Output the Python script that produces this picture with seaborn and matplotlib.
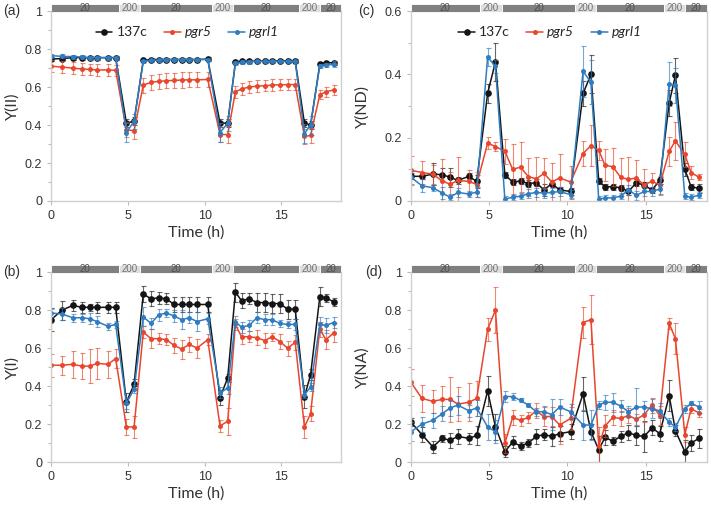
import numpy as np
import pandas as pd
import matplotlib
matplotlib.use("Agg")
import matplotlib.pyplot as plt
import matplotlib.transforms as mtransforms
from matplotlib.patches import Rectangle
from matplotlib.ticker import MultipleLocator
import seaborn as sns

# sampling times (h)
time = [0, 0.7, 1.4, 2.0, 2.5, 3.0, 3.7, 4.2, 4.9, 5.4,
        6.0, 6.5, 7.0, 7.5, 8.0, 8.5, 9.0, 9.5, 10.2, 11.0, 11.5,
        12.0, 12.4, 12.9, 13.4, 13.9, 14.4, 14.9, 15.4, 15.9, 16.5, 16.9,
        17.5, 17.9, 18.4]

# light regime bar: start, end, label
light_start = [0, 4.4, 5.8, 10.5, 11.85, 16.15, 17.5]
light_end = [4.4, 5.8, 10.5, 11.85, 16.15, 17.5, 18.9]
light_label = ["20", "200", "20", "200", "20", "200", "20"]

# (a) Y(II)
y2_137c = [0.748, 0.75, 0.755, 0.755, 0.755, 0.755, 0.755, 0.755, 0.41, 0.42,
           0.74, 0.745, 0.745, 0.745, 0.745, 0.745, 0.745, 0.745, 0.747, 0.41, 0.41,
           0.73, 0.735, 0.735, 0.737, 0.737, 0.737, 0.737, 0.737, 0.737, 0.41, 0.40,
           0.72, 0.728, 0.728]
y2_137c_err = [0.01, 0.01, 0.01, 0.01, 0.01, 0.01, 0.01, 0.01, 0.02, 0.02,
               0.01, 0.01, 0.01, 0.01, 0.01, 0.01, 0.01, 0.01, 0.01, 0.02, 0.02,
               0.01, 0.01, 0.01, 0.01, 0.01, 0.01, 0.01, 0.01, 0.01, 0.02, 0.02,
               0.01, 0.01, 0.01]
y2_pgr5 = [0.71, 0.705, 0.70, 0.695, 0.693, 0.69, 0.69, 0.688, 0.375, 0.37,
           0.61, 0.625, 0.63, 0.633, 0.635, 0.637, 0.638, 0.638, 0.64, 0.35, 0.35,
           0.575, 0.59, 0.60, 0.605, 0.607, 0.61, 0.612, 0.613, 0.613, 0.34, 0.345,
           0.56, 0.575, 0.585]
y2_pgr5_err = [0.03, 0.03, 0.03, 0.03, 0.03, 0.03, 0.03, 0.03, 0.04, 0.045,
               0.04, 0.04, 0.04, 0.04, 0.04, 0.04, 0.04, 0.04, 0.04, 0.04, 0.045,
               0.03, 0.03, 0.03, 0.03, 0.03, 0.03, 0.03, 0.03, 0.03, 0.04, 0.04,
               0.025, 0.025, 0.025]
y2_pgrl1 = [0.765, 0.762, 0.76, 0.758, 0.755, 0.755, 0.755, 0.755, 0.36, 0.42,
            0.735, 0.74, 0.742, 0.745, 0.745, 0.745, 0.745, 0.745, 0.745, 0.36, 0.41,
            0.725, 0.73, 0.733, 0.735, 0.735, 0.735, 0.735, 0.735, 0.735, 0.355, 0.40,
            0.712, 0.718, 0.72]
y2_pgrl1_err = [0.01, 0.01, 0.01, 0.01, 0.01, 0.01, 0.01, 0.01, 0.05, 0.04,
                0.01, 0.01, 0.01, 0.01, 0.01, 0.01, 0.01, 0.01, 0.01, 0.05, 0.04,
                0.01, 0.01, 0.01, 0.01, 0.01, 0.01, 0.01, 0.01, 0.01, 0.05, 0.05,
                0.01, 0.01, 0.015]

# (b) Y(I)
y1_137c = [0.75, 0.80, 0.825, 0.815, 0.815, 0.815, 0.815, 0.815, 0.315, 0.41,
           0.885, 0.86, 0.865, 0.86, 0.83, 0.83, 0.83, 0.83, 0.83, 0.34, 0.443,
           0.895, 0.85, 0.86, 0.84, 0.84, 0.835, 0.835, 0.805, 0.805, 0.345, 0.46,
           0.87, 0.865, 0.844]
y1_137c_err = [0.06, 0.05, 0.03, 0.03, 0.02, 0.03, 0.03, 0.03, 0.05, 0.03,
               0.04, 0.04, 0.03, 0.03, 0.04, 0.04, 0.04, 0.04, 0.04, 0.04, 0.02,
               0.05, 0.04, 0.03, 0.05, 0.05, 0.05, 0.05, 0.05, 0.05, 0.06, 0.03,
               0.05, 0.02, 0.02]
y1_pgr5 = [0.51, 0.51, 0.515, 0.505, 0.505, 0.52, 0.515, 0.545, 0.185, 0.185,
           0.685, 0.65, 0.65, 0.645, 0.615, 0.595, 0.62, 0.60, 0.645, 0.19, 0.215,
           0.725, 0.66, 0.66, 0.655, 0.64, 0.66, 0.635, 0.60, 0.63, 0.185, 0.255,
           0.70, 0.645, 0.68]
y1_pgr5_err = [0.06, 0.05, 0.07, 0.07, 0.09, 0.08, 0.07, 0.05, 0.04, 0.06,
               0.03, 0.05, 0.03, 0.03, 0.04, 0.05, 0.04, 0.05, 0.03, 0.03, 0.07,
               0.03, 0.04, 0.03, 0.04, 0.04, 0.02, 0.04, 0.04, 0.04, 0.06, 0.04,
               0.04, 0.05, 0.05]
y1_pgrl1 = [0.785, 0.78, 0.76, 0.76, 0.755, 0.74, 0.715, 0.725, 0.31, 0.385,
            0.765, 0.73, 0.775, 0.785, 0.77, 0.75, 0.76, 0.74, 0.755, 0.365, 0.39,
            0.74, 0.71, 0.72, 0.76, 0.75, 0.75, 0.73, 0.725, 0.725, 0.355, 0.395,
            0.725, 0.72, 0.735]
y1_pgrl1_err = [0.02, 0.03, 0.02, 0.02, 0.03, 0.03, 0.02, 0.02, 0.03, 0.02,
                0.05, 0.03, 0.03, 0.02, 0.03, 0.05, 0.03, 0.05, 0.03, 0.03, 0.03,
                0.03, 0.03, 0.03, 0.03, 0.03, 0.03, 0.02, 0.02, 0.03, 0.02, 0.02,
                0.04, 0.04, 0.03]

# (c) Y(ND)
ynd_137c = [0.078, 0.078, 0.085, 0.083, 0.075, 0.065, 0.078, 0.062, 0.34, 0.44,
            0.083, 0.06, 0.063, 0.055, 0.058, 0.035, 0.055, 0.035, 0.03, 0.34, 0.40,
            0.063, 0.045, 0.045, 0.042, 0.03, 0.058, 0.05, 0.035, 0.065, 0.31, 0.397,
            0.10, 0.045, 0.04]
ynd_137c_err = [0.01, 0.01, 0.035, 0.02, 0.03, 0.01, 0.01, 0.02, 0.03, 0.06,
                0.01, 0.01, 0.01, 0.01, 0.01, 0.02, 0.01, 0.01, 0.01, 0.04, 0.06,
                0.01, 0.01, 0.01, 0.01, 0.01, 0.01, 0.01, 0.01, 0.01, 0.04, 0.055,
                0.02, 0.01, 0.015]
ynd_pgr5 = [0.097, 0.09, 0.085, 0.063, 0.053, 0.065, 0.062, 0.052, 0.183, 0.172,
            0.157, 0.10, 0.107, 0.077, 0.07, 0.087, 0.06, 0.073, 0.06, 0.15, 0.175,
            0.16, 0.113, 0.108, 0.075, 0.068, 0.073, 0.05, 0.063, 0.05, 0.157, 0.19,
            0.147, 0.09, 0.075]
ynd_pgr5_err = [0.045, 0.035, 0.03, 0.07, 0.04, 0.075, 0.035, 0.04, 0.02, 0.015,
                0.04, 0.08, 0.08, 0.06, 0.07, 0.05, 0.06, 0.075, 0.05, 0.04, 0.065,
                0.03, 0.05, 0.06, 0.06, 0.07, 0.055, 0.05, 0.025, 0.03, 0.045, 0.06,
                0.04, 0.02, 0.01]
ynd_pgrl1 = [0.075, 0.048, 0.042, 0.025, 0.012, 0.027, 0.022, 0.028, 0.455, 0.425,
             0.006, 0.012, 0.015, 0.023, 0.027, 0.025, 0.027, 0.03, 0.02, 0.41, 0.375,
             0.005, 0.01, 0.01, 0.015, 0.035, 0.018, 0.03, 0.03, 0.038, 0.37, 0.365,
             0.015, 0.012, 0.018]
ynd_pgrl1_err = [0.02, 0.02, 0.01, 0.02, 0.01, 0.015, 0.01, 0.015, 0.03, 0.02,
                 0.01, 0.01, 0.01, 0.015, 0.015, 0.015, 0.015, 0.015, 0.015, 0.08, 0.07,
                 0.01, 0.01, 0.01, 0.01, 0.015, 0.015, 0.015, 0.015, 0.015, 0.07, 0.055,
                 0.01, 0.01, 0.01]

# (d) Y(NA)
yna_137c = [0.21, 0.145, 0.08, 0.125, 0.115, 0.135, 0.125, 0.14, 0.375, 0.185,
            0.055, 0.105, 0.085, 0.10, 0.135, 0.145, 0.135, 0.15, 0.16, 0.36, 0.16,
            0.065, 0.13, 0.11, 0.135, 0.155, 0.14, 0.135, 0.18, 0.15, 0.35, 0.165,
            0.055, 0.10, 0.125]
yna_137c_err = [0.02, 0.04, 0.03, 0.02, 0.04, 0.04, 0.03, 0.05, 0.08, 0.07,
                0.03, 0.03, 0.02, 0.02, 0.04, 0.03, 0.05, 0.04, 0.04, 0.09, 0.04,
                0.07, 0.04, 0.02, 0.03, 0.04, 0.05, 0.08, 0.04, 0.04, 0.08, 0.03,
                0.06, 0.04, 0.05]
yna_pgr5 = [0.42, 0.335, 0.32, 0.33, 0.33, 0.305, 0.315, 0.335, 0.70, 0.80,
            0.10, 0.235, 0.22, 0.235, 0.27, 0.24, 0.24, 0.195, 0.23, 0.735, 0.75,
            0.085, 0.19, 0.235, 0.23, 0.245, 0.225, 0.25, 0.30, 0.245, 0.73, 0.65,
            0.145, 0.28, 0.26]
yna_pgr5_err = [0.07, 0.07, 0.06, 0.07, 0.12, 0.09, 0.10, 0.09, 0.06, 0.12,
                0.05, 0.04, 0.03, 0.03, 0.04, 0.05, 0.05, 0.10, 0.06, 0.08, 0.13,
                0.10, 0.06, 0.04, 0.04, 0.04, 0.03, 0.04, 0.04, 0.05, 0.03, 0.08,
                0.04, 0.02, 0.02]
yna_pgrl1 = [0.16, 0.20, 0.22, 0.255, 0.285, 0.30, 0.27, 0.285, 0.185, 0.16,
             0.345, 0.345, 0.325, 0.30, 0.265, 0.265, 0.25, 0.29, 0.265, 0.195, 0.195,
             0.30, 0.315, 0.315, 0.295, 0.265, 0.29, 0.29, 0.28, 0.27, 0.21, 0.185,
             0.28, 0.31, 0.29]
yna_pgrl1_err = [0.05, 0.04, 0.04, 0.04, 0.04, 0.05, 0.03, 0.04, 0.07, 0.06,
                 0.03, 0.02, 0.01, 0.01, 0.02, 0.03, 0.08, 0.04, 0.04, 0.08, 0.08,
                 0.02, 0.04, 0.05, 0.03, 0.03, 0.10, 0.03, 0.05, 0.04, 0.02, 0.02,
                 0.02, 0.01, 0.03]

strains = ["137c", "pgr5", "pgrl1"]
colors = {"137c": "#151515", "pgr5": "#e8472d", "pgrl1": "#2f7cc0"}

panels = [
    ("(a)", "Y(II)", 1.0, [y2_137c, y2_pgr5, y2_pgrl1], [y2_137c_err, y2_pgr5_err, y2_pgrl1_err], True),
    ("(c)", "Y(ND)", 0.6, [ynd_137c, ynd_pgr5, ynd_pgrl1], [ynd_137c_err, ynd_pgr5_err, ynd_pgrl1_err], True),
    ("(b)", "Y(I)", 1.0, [y1_137c, y1_pgr5, y1_pgrl1], [y1_137c_err, y1_pgr5_err, y1_pgrl1_err], False),
    ("(d)", "Y(NA)", 1.0, [yna_137c, yna_pgr5, yna_pgrl1], [yna_137c_err, yna_pgr5_err, yna_pgrl1_err], False),
]

sns.set_theme(style="ticks")
plt.rcParams["font.family"] = ["Liberation Sans", "DejaVu Sans"]

fig = plt.figure(figsize=(7.11, 5.05), dpi=100)
ax_pos = [[0.072, 0.602, 0.408, 0.376], [0.578, 0.602, 0.416, 0.376],
          [0.072, 0.085, 0.408, 0.376], [0.578, 0.085, 0.416, 0.376]]
tag_x = [0.017, 0.515, 0.017, 0.525]
ylab_x = [-0.11, -0.14, -0.11, -0.14]

for (tag, ylab, ymax, vals, errs, show_leg), pos, tx, lx in zip(panels, ax_pos, tag_x, ylab_x):
    ax = fig.add_axes(pos)
    for s, v, e in zip(strains, vals, errs):
        df = pd.DataFrame({"Time": time, "Y": v})
        ms = 4.8 if s == "137c" else 3.6
        sns.lineplot(data=df, x="Time", y="Y", ax=ax, color=colors[s], marker="o",
                     markersize=ms, markeredgewidth=0, linewidth=1.1, label=s, legend=False)
        ax.errorbar(time, v, yerr=e, fmt="none", ecolor=colors[s], elinewidth=0.8,
                    capsize=1.8, capthick=0.8, alpha=0.65)

    ax.set_xlim(0, 18.9)
    ax.set_ylim(0, ymax)
    ax.xaxis.set_major_locator(MultipleLocator(5))
    ax.yaxis.set_major_locator(MultipleLocator(0.2))
    ax.yaxis.set_minor_locator(MultipleLocator(0.1))
    ax.set_yticklabels([("%g" % t) for t in ax.get_yticks()])
    ax.tick_params(axis="both", which="both", colors="#bbbbbb", labelcolor="#333333",
                   labelsize=9, length=3, width=0.8)
    ax.tick_params(axis="y", which="minor", length=2)
    for sp in ["left", "bottom", "right"]:
        ax.spines[sp].set_color("#cfcfcf")
        ax.spines[sp].set_linewidth(1.0)
    ax.spines["top"].set_visible(False)

    ax.set_xlabel("Time (h)", fontsize=11.5, color="#333333", family=["Lato", "DejaVu Sans"])
    ax.set_ylabel(ylab, fontsize=11.5, color="#333333", family=["Lato", "DejaVu Sans"])
    ax.xaxis.set_label_coords(0.5, -0.13)
    ax.yaxis.set_label_coords(lx, 0.5)

    # light intensity bar above each panel
    trans = mtransforms.blended_transform_factory(ax.transData, ax.transAxes)
    for x0, x1, lab in zip(light_start, light_end, light_label):
        fc = "#808080" if lab == "20" else "#dedede"
        ax.add_patch(Rectangle((x0, 0.997), x1 - x0, 0.042, transform=trans,
                               facecolor=fc, edgecolor="white", linewidth=0.6, clip_on=False))
        ax.text((x0 + x1) / 2, 1.018, lab, transform=trans, ha="center", va="center",
                fontsize=7, color="#505050" if lab == "20" else "#707070")

    fig.text(tx, pos[1] + pos[3], tag, ha="center", va="center",
             fontsize=10, color="#333333")

    if show_leg:
        leg = ax.legend(loc="upper center", bbox_to_anchor=(0.47, 0.985), ncol=3, frameon=False,
                        handlelength=1.2, handletextpad=0.3, columnspacing=1.2,
                        prop={"family": ["Lato", "DejaVu Sans"], "size": 10})
        for txt in leg.get_texts()[1:]:
            txt.set_fontstyle("italic")

plt.savefig("out.png", dpi=100)
